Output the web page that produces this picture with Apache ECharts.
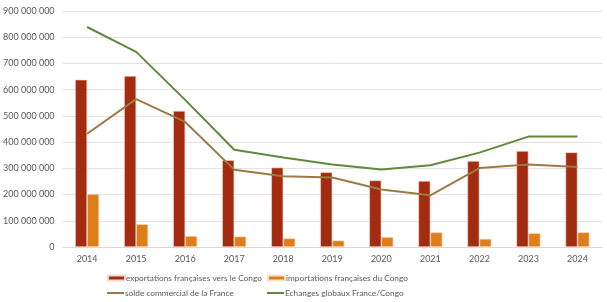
<!DOCTYPE html>
<html>
<head>
<meta charset="utf-8">
<script src="https://cdn.jsdelivr.net/npm/echarts@6/dist/echarts.min.js"></script>
<style>
  html, body { margin: 0; padding: 0; background: #fff; }
  #main { width: 607px; height: 302px; }
</style>
</head>
<body>
<div id="main"></div>
<script>
// données (en euros)
var annees = ['2014', '2015', '2016', '2017', '2018', '2019', '2020', '2021', '2022', '2023', '2024'];
var exportations = [638e6, 652e6, 519e6, 331e6, 303e6, 285e6, 254e6, 252e6, 328e6, 366e6, 361e6];
var importations = [202e6, 87e6, 42e6, 40e6, 33e6, 25e6, 38e6, 56e6, 31e6, 53e6, 56e6];
var solde = [432e6, 564e6, 477e6, 295e6, 270e6, 265e6, 219e6, 197e6, 301e6, 315e6, 305e6];
var echanges = [839e6, 744e6, 561e6, 371e6, 341e6, 315e6, 296e6, 312e6, 360e6, 421e6, 421e6];

var police = 'Lato, "Noto Sans", sans-serif';
var gris = '#595959';

var noms = [
  'exportations françaises vers le Congo',
  'importations françaises du Congo',
  'solde commercial de la France',
  'Echanges globaux France/Congo'
];

// séparateur de milliers : espace
var fmt = function (v) {
  return String(Math.round(v)).replace(/\B(?=(\d{3})+(?!\d))/g, ' ');
};

// une légende par entrée, placée comme dans Excel (2 colonnes)
var legende = function (nom, x, y, h) {
  return {
    left: x, top: y, padding: 0,
    itemWidth: 17, itemHeight: h, itemGap: 0,
    icon: 'rect',
    textStyle: { fontFamily: police, fontSize: 8.3, color: gris, padding: [0, 0, 0, -4] },
    data: [nom]
  };
};

var chart = echarts.init(document.getElementById('main'));
chart.setOption({
  animation: false,
  grid: { left: 62, right: 5, top: 11, bottom: 55, containLabel: false },
  legend: [
    legende(noms[0], 107, 274, 5),
    legende(noms[1], 267, 274, 5),
    legende(noms[2], 107, 289, 2),
    legende(noms[3], 267, 289, 2)
  ],
  xAxis: {
    type: 'category',
    data: annees,
    axisLine: { lineStyle: { color: '#d9d9d9' } },
    axisTick: { show: false },
    axisLabel: { fontFamily: police, fontSize: 9, color: gris, margin: 8 }
  },
  yAxis: {
    type: 'value',
    min: 0, max: 900e6, interval: 100e6,
    axisLine: { show: false },
    axisTick: { show: false },
    splitLine: { lineStyle: { color: '#e3e3e3', width: 1 } },
    axisLabel: { fontFamily: police, fontSize: 9, color: gris, margin: 8, formatter: fmt }
  },
  series: [
    {
      name: noms[0],
      type: 'bar', data: exportations,
      barWidth: 12, barGap: '0%',
      itemStyle: { color: '#A32C10', borderColor: '#f3d6cf', borderWidth: 0.6 }
    },
    {
      name: noms[1],
      type: 'bar', data: importations,
      barWidth: 12,
      itemStyle: { color: '#DF7F1C', borderColor: '#f8e2c9', borderWidth: 0.6 }
    },
    {
      name: noms[2],
      type: 'line', data: solde,
      showSymbol: false, symbol: 'none',
      lineStyle: { color: '#9B7B45', width: 2 },
      itemStyle: { color: '#9B7B45' }
    },
    {
      name: noms[3],
      type: 'line', data: echanges,
      showSymbol: false, symbol: 'none',
      lineStyle: { color: '#5F8A3C', width: 2 },
      itemStyle: { color: '#5F8A3C' }
    }
  ]
});
</script>
</body>
</html>
